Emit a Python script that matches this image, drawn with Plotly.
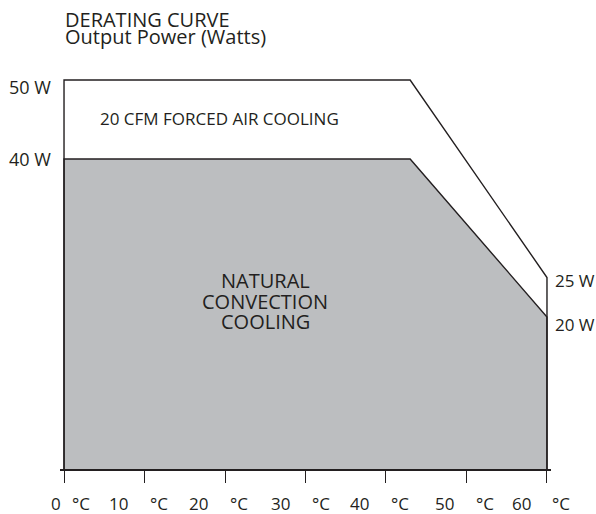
import plotly.graph_objects as go

# ---- data ----
temps_profile = [0, 43, 60]          # °C breakpoints of the derating curve
power_forced = [50, 50, 25]          # W, 20 CFM forced air cooling
power_natural = [40, 40, 20]         # W, natural convection cooling
floor_power = 0                      # W, bottom of the shaded regions
x_ticks = [0, 10, 20, 30, 40, 50, 60]
left_power_labels = [50, 40]
right_power_labels = [25, 20]

INK = "#231f20"
GRAY = "#bcbec0"
FONT = "Open Sans"

fig = go.Figure()

# natural convection (shaded) region
fig.add_trace(go.Scatter(
    x=[temps_profile[0]] + temps_profile + [temps_profile[-1]],
    y=[floor_power] + power_natural + [floor_power],
    mode="lines", fill="toself", fillcolor=GRAY,
    line=dict(color=INK, width=1.4), hoverinfo="skip", showlegend=False))

# forced air outline
fig.add_trace(go.Scatter(
    x=[temps_profile[0]] + temps_profile + [temps_profile[-1]],
    y=[floor_power] + power_forced + [floor_power],
    mode="lines",
    line=dict(color=INK, width=1.4), hoverinfo="skip", showlegend=False))

ann = []
txt = dict(family=FONT, size=17, color=INK)

# title lines
ann.append(dict(text="DERATING CURVE", xref="paper", yref="paper", x=0.006, y=1,
                xanchor="left", yanchor="middle", yshift=41, showarrow=False,
                font=dict(family=FONT, size=20, color=INK)))
ann.append(dict(text="Output Power (Watts)", xref="paper", yref="paper", x=0.006, y=1,
                xanchor="left", yanchor="middle", yshift=24, showarrow=False,
                font=dict(family=FONT, size=20, color=INK)))

# left power labels
left_shift = {50: -7, 40: 0}
for p in left_power_labels:
    ann.append(dict(text=f"{p} W", x=0, y=p, xref="x", yref="y", xanchor="right",
                    yanchor="middle", xshift=-11, yshift=left_shift[p],
                    showarrow=False, font=dict(family=FONT, size=18, color=INK)))
# right power labels
right_shift = {25: -3, 20: -7}
for p in right_power_labels:
    ann.append(dict(text=f"{p} W", x=60, y=p, xref="x", yref="y", xanchor="left",
                    yanchor="middle", xshift=6, yshift=right_shift[p],
                    showarrow=False, font=dict(family=FONT, size=17, color=INK)))

# x tick labels: number to the left of the tick, °C to the right
num_shift = {0: -1, 10: -15, 20: -15, 30: -14, 40: -15, 50: -10, 60: -14}
deg_shift = {0: 6, 10: 3, 20: 3, 30: 4, 40: 3, 50: 8, 60: 3}
for t in x_ticks:
    ann.append(dict(text=f"{t}", x=t, y=0, xref="x", yref="paper", xanchor="right",
                    yanchor="middle", xshift=num_shift[t], yshift=-34,
                    showarrow=False, font=txt))
    ann.append(dict(text="°C", x=t, y=0, xref="x", yref="paper", xanchor="left",
                    yanchor="middle", xshift=deg_shift[t], yshift=-34,
                    showarrow=False, font=txt))

# region labels
ann.append(dict(text="20 CFM FORCED AIR COOLING", x=4.2, y=45.1, xref="x", yref="y",
                xanchor="left", yanchor="middle", showarrow=False, font=txt))
for line, yy in zip(["NATURAL", "CONVECTION", "COOLING"], [24.6, 21.9, 19.4]):
    ann.append(dict(text=line, x=25, y=yy, xref="x", yref="y", xanchor="center",
                    yanchor="middle", showarrow=False,
                    font=dict(family=FONT, size=20, color=INK)))

fig.update_layout(
    width=596, height=514, autosize=False,
    margin=dict(l=60, r=45, t=60, b=45),
    paper_bgcolor="white", plot_bgcolor="white",
    annotations=ann,
    xaxis=dict(range=[-0.5, 60.5], showgrid=False, zeroline=False,
               showline=True, linecolor=INK, linewidth=2,
               ticks="outside", ticklen=12, tickwidth=1.3, tickcolor=INK,
               tickvals=x_ticks, showticklabels=False, fixedrange=True),
    yaxis=dict(range=[0.76, 52.53], showgrid=False, zeroline=False,
               showline=False, showticklabels=False, ticks="", fixedrange=True),
)

fig.write_html("out.html", config={"displayModeBar": False},
               post_script="document.body.style.margin='0';document.body.style.overflow='hidden';")
